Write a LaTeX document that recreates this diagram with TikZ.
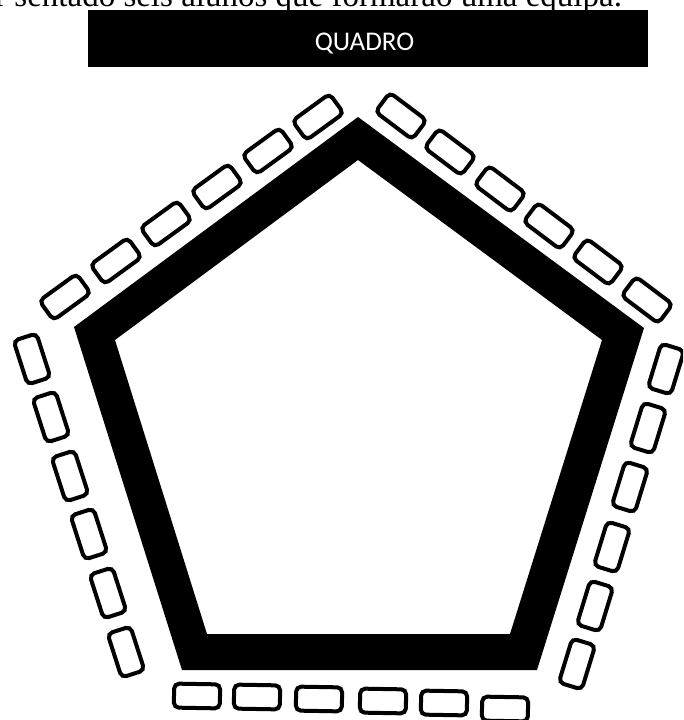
\documentclass[tikz,border=0pt]{standalone}
\usepackage{fontspec}
\newfontfamily\captionface{Liberation Serif}
\newfontfamily\boardface{Carlito}
\begin{document}
\begin{tikzpicture}[x=1pt,y=-1pt,
  chair/.style={draw=black, fill=white, line width=4pt, rounded corners=5pt,
    minimum width=46pt, minimum height=24pt, inner sep=0pt, shape=rectangle},
  board/.style={fill=black, inner sep=0pt, minimum width=560pt, minimum height=57pt, anchor=north west},
  table/.style={fill=black, even odd rule}]
\useasboundingbox (0,0) rectangle (683,720);
\clip (0,0) rectangle (683,720);
\fill[white] (0,0) rectangle (683,720);
% cut-off caption line
\node[anchor=base west, inner sep=0pt, font=\captionface\fontsize{33}{33}\selectfont] (caption) at (-5,6.5) {r sentado seis alunos que formarão uma equipa.};
% board
\node[board] (quadro) at (88,10) {};
\node[anchor=base, inner sep=0pt, text=white, font=\boardface\fontsize{27}{27}\selectfont] (qlabel) at (364.5,50) {QUADRO};
% pentagon table
\fill[table] (358,117) -- (644,328) -- (537,670) -- (182,670) -- (74,327) -- cycle
             (358,160) -- (602,340) -- (510,634) -- (207,634) -- (115,340) -- cycle;
% chairs top-left
\foreach \i/\x/\y in {1/65/297, 2/116/261, 3/166/224, 4/217/187, 5/268/151, 6/318/117}
  \node[chair, rotate=36] (tl\i) at (\x,\y) {};
% chairs top-right
\foreach \i/\x/\y in {1/401/116, 2/450/152, 3/500/189, 4/549/226, 5/598/262, 6/647/300}
  \node[chair, rotate=-37] (tr\i) at (\x,\y) {};
% chairs left
\foreach \i/\x/\y in {1/32/359, 2/51/417, 3/70/476, 4/89/534, 5/108/593, 6/126/652}
  \node[chair, rotate=107.8] (lf\i) at (\x,\y) {};
% chairs right
\foreach \i/\x/\y in {1/666/369, 2/648/428, 3/630/487, 4/612/547, 5/595/606, 6/577/664}
  \node[chair, rotate=73] (rt\i) at (\x,\y) {};
% chairs bottom
\foreach \i/\x/\y in {1/197/696, 2/257/697, 3/319/699, 4/383/701, 5/444/703, 6/505/709}
  \node[chair, rotate=-1] (bt\i) at (\x,\y) {};
\end{tikzpicture}
\end{document}
